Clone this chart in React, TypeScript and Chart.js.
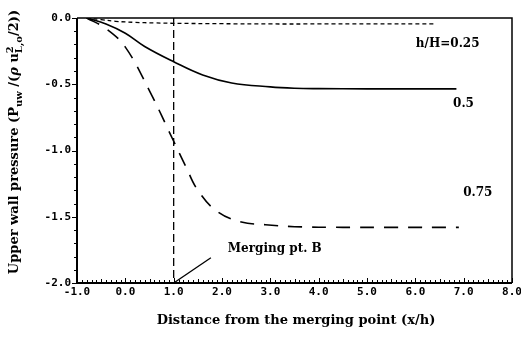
import React, { useEffect, useRef } from "react";
import { Chart, registerables } from "chart.js";

Chart.register(...registerables);

const xTickValues = [-1, 0, 1, 2, 3, 4, 5, 6, 7, 8];
const yTickValues = [0, -0.5, -1.0, -1.5, -2.0];

const x025 = [-0.8, -0.5, -0.2, 0.2, 0.6, 1.0, 2.0, 3.0, 4.0, 5.0, 6.4];
const y025 = [0, -0.012, -0.025, -0.033, -0.037, -0.04, -0.043, -0.045, -0.045, -0.045, -0.045];

const x050 = [-0.8, -0.4, 0, 0.4, 1.0, 1.6, 2.2, 3.0, 3.5, 4.0, 5.0, 6.0, 6.85];
const y050 = [0, -0.045, -0.115, -0.215, -0.33, -0.43, -0.49, -0.52, -0.53, -0.533, -0.535, -0.535, -0.535];

const x075 = [-0.8, -0.4, 0, 0.5, 1.0, 1.25, 1.5, 1.9, 2.4, 2.9, 3.5, 4.5, 5.5, 6.9];
const y075 = [0, -0.08, -0.22, -0.55, -0.93, -1.12, -1.3, -1.46, -1.54, -1.56, -1.575, -1.58, -1.58, -1.58];

const xMerge = [1.0, 1.0];
const yMerge = [0.0, -2.0];

const xPointer = [1.0, 1.77];
const yPointer = [-2.0, -1.81];

const curveLabels = [
  { text: "h/H=0.25", x: 6.01, y: -0.196 },
  { text: "0.5", x: 6.78, y: -0.65 },
  { text: "0.75", x: 6.99, y: -1.32 },
  { text: "Merging pt. B", x: 2.12, y: -1.74 },
];

const xTitle = "Distance from the merging point (x/h)";

const pts = (xs: number[], ys: number[]) => xs.map((x, i) => ({ x, y: ys[i] }));

const serif = "bold 12px 'DejaVu Serif'";
const titleFont = "bold 13px 'DejaVu Serif'";
const mono = "bold 11px 'DejaVu Sans Mono'";

const drawPlugin = {
  id: "plotterDecor",
  afterDraw(chart: any) {
    const ctx = chart.ctx as CanvasRenderingContext2D;
    const xs = chart.scales.x;
    const ys = chart.scales.y;
    const { left, right, top, bottom } = chart.chartArea;
    ctx.save();
    ctx.strokeStyle = "#000";
    ctx.fillStyle = "#000";
    ctx.lineWidth = 1.5;
    ctx.beginPath();
    ctx.moveTo(left, top);
    ctx.lineTo(right, top);
    ctx.lineTo(right, bottom);
    ctx.stroke();
    ctx.lineWidth = 2;
    ctx.beginPath();
    ctx.moveTo(left, top);
    ctx.lineTo(left, bottom);
    ctx.lineTo(right, bottom);
    ctx.stroke();
    ctx.lineWidth = 1;
    for (let i = 0; i <= 90; i++) {
      const v = -1 + i * 0.1;
      const px = Math.round(xs.getPixelForValue(v)) + 0.5;
      const len = i % 10 === 0 ? 5 : i % 5 === 0 ? 4 : 3;
      ctx.beginPath();
      ctx.moveTo(px, bottom);
      ctx.lineTo(px, bottom - len);
      ctx.stroke();
    }
    for (let i = 0; i <= 20; i++) {
      const v = -i * 0.1;
      const py = Math.round(ys.getPixelForValue(v)) + 0.5;
      const len = i % 5 === 0 ? 5 : 3;
      ctx.beginPath();
      ctx.moveTo(left, py);
      ctx.lineTo(left - len, py);
      ctx.stroke();
    }
    ctx.font = mono;
    ctx.textAlign = "center";
    ctx.textBaseline = "middle";
    xTickValues.forEach((v) => {
      ctx.fillText(v.toFixed(1), xs.getPixelForValue(v), bottom + 9);
    });
    ctx.textAlign = "right";
    yTickValues.forEach((v) => {
      ctx.fillText(v.toFixed(1), left - 6, ys.getPixelForValue(v));
    });
    ctx.font = serif;
    ctx.textAlign = "left";
    curveLabels.forEach((l) => {
      ctx.fillText(l.text, xs.getPixelForValue(l.x), ys.getPixelForValue(l.y));
    });
    ctx.font = titleFont;
    ctx.textAlign = "center";
    ctx.fillText(xTitle, 296, 321);
    ctx.translate(15, 142);
    ctx.rotate(-Math.PI / 2);
    const small = "bold 10px 'DejaVu Serif'";
    const parts: { t: string; f: string; dy: number; adv?: boolean }[] = [
      { t: "Upper wall pressure (P", f: titleFont, dy: 0 },
      { t: "uw", f: small, dy: 4 },
      { t: " /(", f: titleFont, dy: 0 },
      { t: "\u03c1", f: "italic bold 13px 'DejaVu Serif'", dy: 0 },
      { t: " u", f: titleFont, dy: 0 },
      { t: "2", f: small, dy: -5, adv: false },
      { t: "L,o", f: small, dy: 4 },
      { t: "/2))", f: titleFont, dy: 0 },
    ];
    let total = 0;
    parts.forEach((p) => {
      ctx.font = p.f;
      if (p.adv !== false) total += ctx.measureText(p.t).width;
    });
    let cx = -total / 2;
    ctx.textAlign = "left";
    parts.forEach((p) => {
      ctx.font = p.f;
      ctx.fillText(p.t, cx, p.dy);
      if (p.adv !== false) cx += ctx.measureText(p.t).width;
    });
    ctx.restore();
  },
};

export default function App() {
  const ref = useRef<HTMLCanvasElement>(null);
  useEffect(() => {
    document.body.style.margin = "0";
    const chart = new Chart(ref.current!, {
      type: "line",
      data: {
        datasets: [
          { label: "0.25", data: pts(x025, y025), borderColor: "#000", borderWidth: 1.3, borderDash: [4, 3], pointRadius: 0, tension: 0.4 },
          { label: "0.5", data: pts(x050, y050), borderColor: "#000", borderWidth: 1.6, pointRadius: 0, tension: 0.4 },
          { label: "0.75", data: pts(x075, y075), borderColor: "#000", borderWidth: 1.6, borderDash: [14, 10], pointRadius: 0, tension: 0.4 },
          { label: "merge", data: pts(xMerge, yMerge), borderColor: "#000", borderWidth: 1.3, borderDash: [8, 4], pointRadius: 0 },
          { label: "pointer", data: pts(xPointer, yPointer), borderColor: "#000", borderWidth: 1.3, pointRadius: 0 },
        ],
      },
      options: {
        animation: false,
        responsive: false,
        layout: { padding: { top: 18, right: 9, left: 0, bottom: 0 } },
        plugins: { legend: { display: false }, tooltip: { enabled: false } },
        scales: {
          x: {
            type: "linear", min: -1, max: 8,
            ticks: { display: false }, grid: { display: false }, border: { display: false },
            afterFit: (s: any) => { s.height = 56; },
          },
          y: {
            type: "linear", min: -2, max: 0,
            ticks: { display: false }, grid: { display: false }, border: { display: false },
            afterFit: (s: any) => { s.width = 77; },
          },
        },
      },
      plugins: [drawPlugin],
    });
    return () => chart.destroy();
  }, []);
  return (
    <div style={{ width: 521, height: 339, background: "#fff" }}>
      <canvas ref={ref} width={521} height={339} />
    </div>
  );
}
